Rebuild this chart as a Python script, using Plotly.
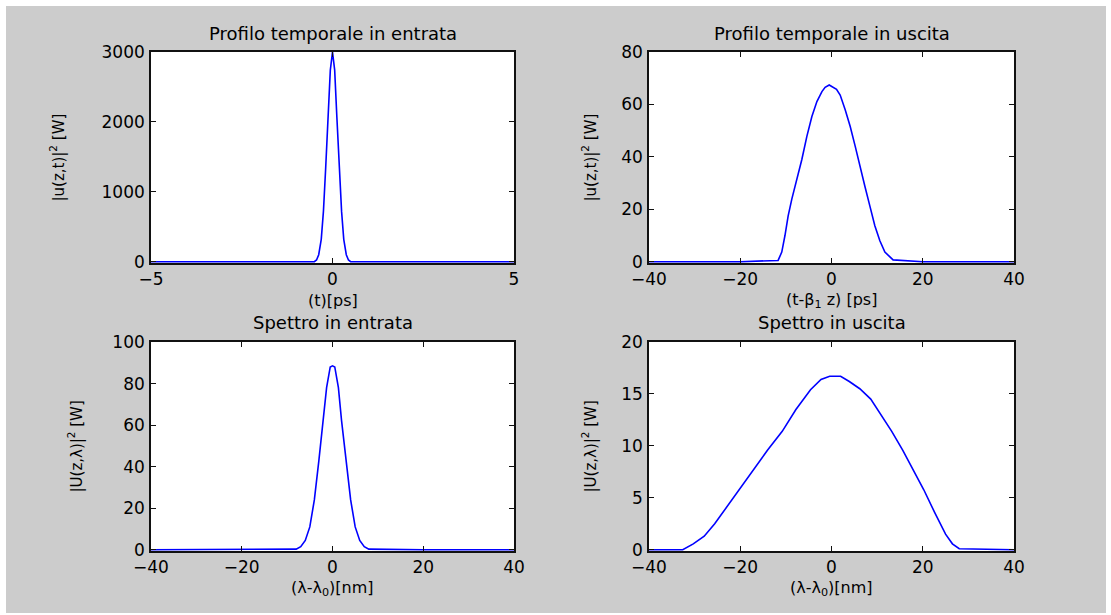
import plotly.graph_objects as go

# ---------------- data ----------------
t_in = [-5, -1, -0.5, -0.44, -0.38, -0.31, -0.25, -0.19, -0.12, -0.06, 0,
        0.06, 0.12, 0.19, 0.25, 0.31, 0.38, 0.44, 0.5, 1, 5]
p_in = [0, 0, 0, 25, 100, 320, 720, 1320, 2070, 2740, 3000,
        2740, 2070, 1320, 720, 320, 100, 25, 0, 0, 0]

t_out = [-40, -20, -11.7, -10.9, -10.2, -9.5, -8.7, -7.6, -6.5, -5.4, -4.3, -3.2,
         -2.1, -1.4, -0.5, 1.1, 1.9, 3.0, 4.1, 5.2, 6.2, 7.3, 8.4, 9.5, 10.6,
         11.7, 13.5, 20, 40]
p_out = [0, 0, 0.5, 3.7, 10, 17.5, 23.9, 31.4, 39, 47.8, 55.4, 61.1,
         64.9, 66.5, 67.4, 65.8, 63.6, 58, 51.6, 44, 36.5, 28.9, 21.3, 13.7, 8,
         3.7, 0.7, 0, 0]

lam_in = [-40, -20, -8, -7, -6, -5, -4, -3, -2, -1.3, -0.5, 0, 0.5, 1.3, 2, 3,
          4, 5, 6, 7, 8, 20, 40]
s_in = [0, 0, 0.3, 1.5, 4.5, 11, 24, 43, 62, 78, 88, 88.5, 88, 78, 62, 43,
        24, 11, 4.5, 1.5, 0.3, 0, 0]

lam_out = [-40, -32.6, -30.3, -27.9, -25.6, -23.3, -20.2, -17.1, -14.0, -10.8,
           -7.8, -4.6, -2.3, -0.4, 2.0, 3.9, 6.2, 8.6, 10.9, 13.2, 15.6, 17.9,
           20.2, 22.6, 25.0, 26.5, 28.0, 40]
s_out = [0, 0, 0.57, 1.3, 2.5, 3.9, 5.8, 7.75, 9.6, 11.4,
         13.5, 15.4, 16.4, 16.7, 16.7, 16.2, 15.5, 14.5, 13.0, 11.4, 9.6, 7.75,
         5.8, 3.6, 1.5, 0.57, 0.1, 0]

titles = ["Profilo temporale in entrata", "Profilo temporale in uscita",
          "Spettro in entrata", "Spettro in uscita"]
xlabels = ["(t)[ps]", "(t-β<sub>1</sub> z) [ps]",
           "(λ-λ<sub>0</sub>)[nm]", "(λ-λ<sub>0</sub>)[nm]"]
ylabels = ["|u(z,t)|<sup>2</sup> [W]", "|u(z,t)|<sup>2</sup> [W]",
           "|U(z,λ)|<sup>2</sup> [W]", "|U(z,λ)|<sup>2</sup> [W]"]
xticks = [[-5, 0, 5], [-40, -20, 0, 20, 40], [-40, -20, 0, 20, 40], [-40, -20, 0, 20, 40]]
yticks = [[0, 1000, 2000, 3000], [0, 20, 40, 60, 80], [0, 20, 40, 60, 80, 100],
          [0, 5, 10, 15, 20]]

# ---------------- layout geometry ----------------
W, H = 1111, 615
boxes = [(151, 514, 52, 263), (649, 1014, 52, 263),
         (151, 514, 342, 551), (649, 1014, 342, 551)]

FONT = "DejaVu Sans"
BLUE = "#0000ff"
TICK = 17
TITLE = 18
XLAB = 16

fig = go.Figure()
series = [(t_in, p_in), (t_out, p_out), (lam_in, s_in), (lam_out, s_out)]
for i, (xs, ys) in enumerate(series):
    sfx = "" if i == 0 else str(i + 1)
    fig.add_trace(go.Scatter(x=xs, y=ys, mode="lines",
                             line=dict(color=BLUE, width=1.6),
                             xaxis="x" + sfx, yaxis="y" + sfx,
                             showlegend=False, hoverinfo="skip"))

axis_common = dict(showline=True, linecolor="#111111", linewidth=1.6,
                   mirror="ticks", ticks="inside", ticklen=5, tickwidth=1,
                   tickcolor="#111111", showgrid=False, zeroline=False,
                   automargin=False,
                   tickfont=dict(family=FONT, size=TICK, color="black"))

layout = {}
annotations = []
for i, (x0, x1, y0, y1) in enumerate(boxes):
    sfx = "" if i == 0 else str(i + 1)
    ytop = yticks[i][-1]
    layout["xaxis" + sfx] = dict(axis_common,
                                 domain=[x0 / W, x1 / W],
                                 range=[xticks[i][0], xticks[i][-1]],
                                 tickvals=xticks[i],
                                 ticklabelstandoff=0,
                                 anchor="y" + sfx)
    layout["yaxis" + sfx] = dict(axis_common,
                                 domain=[1 - y1 / H, 1 - y0 / H],
                                 range=[-0.006 * ytop, ytop],
                                 tickvals=yticks[i],
                                 ticklabelstandoff=1,
                                 anchor="x" + sfx)
    cx = (x0 + x1) / 2 / W
    # title
    annotations.append(dict(text=titles[i], x=cx, y=1 - (y0 - 19) / H,
                            xref="paper", yref="paper", showarrow=False,
                            xanchor="center", yanchor="middle",
                            font=dict(family=FONT, size=TITLE, color="black")))
    # x label
    annotations.append(dict(text=xlabels[i], x=cx, y=1 - (y1 + 37) / H,
                            xref="paper", yref="paper", showarrow=False,
                            xanchor="center", yanchor="middle",
                            font=dict(family=FONT, size=XLAB, color="black")))
    # y label
    ylx = {0: 57, 1: 589, 2: 75, 3: 589}[i]
    annotations.append(dict(text=ylabels[i], x=ylx / W, y=1 - (y0 + y1) / 2 / H,
                            xref="paper", yref="paper", showarrow=False,
                            textangle=-90, xanchor="center", yanchor="middle",
                            font=dict(family=FONT, size=15, color="black")))

# thin white frame around the grey figure area
white = "#ffffff"
shapes = [
    dict(type="rect", xref="paper", yref="paper", x0=0, x1=1, y0=1 - 6 / H, y1=1,
         fillcolor=white, line=dict(width=0), layer="above"),
    dict(type="rect", xref="paper", yref="paper", x0=0, x1=6 / W, y0=0, y1=1,
         fillcolor=white, line=dict(width=0), layer="above"),
    dict(type="rect", xref="paper", yref="paper", x0=0, x1=1, y0=0, y1=2 / H,
         fillcolor=white, line=dict(width=0), layer="above"),
    dict(type="rect", xref="paper", yref="paper", x0=1 - 5 / W, x1=1, y0=0, y1=1,
         fillcolor=white, line=dict(width=0), layer="above"),
]

fig.update_layout(width=W, height=H,
                  margin=dict(l=0, r=0, t=0, b=0, pad=0),
                  paper_bgcolor="#cccccc", plot_bgcolor="#ffffff",
                  annotations=annotations, shapes=shapes,
                  font=dict(family=FONT, size=TICK, color="black"),
                  **layout)

fig.write_html("out.html",
               config={"displayModeBar": False},
               post_script="document.body.style.margin='0px';"
                           "document.body.style.padding='0px';"
                           "document.body.style.overflow='hidden';")
